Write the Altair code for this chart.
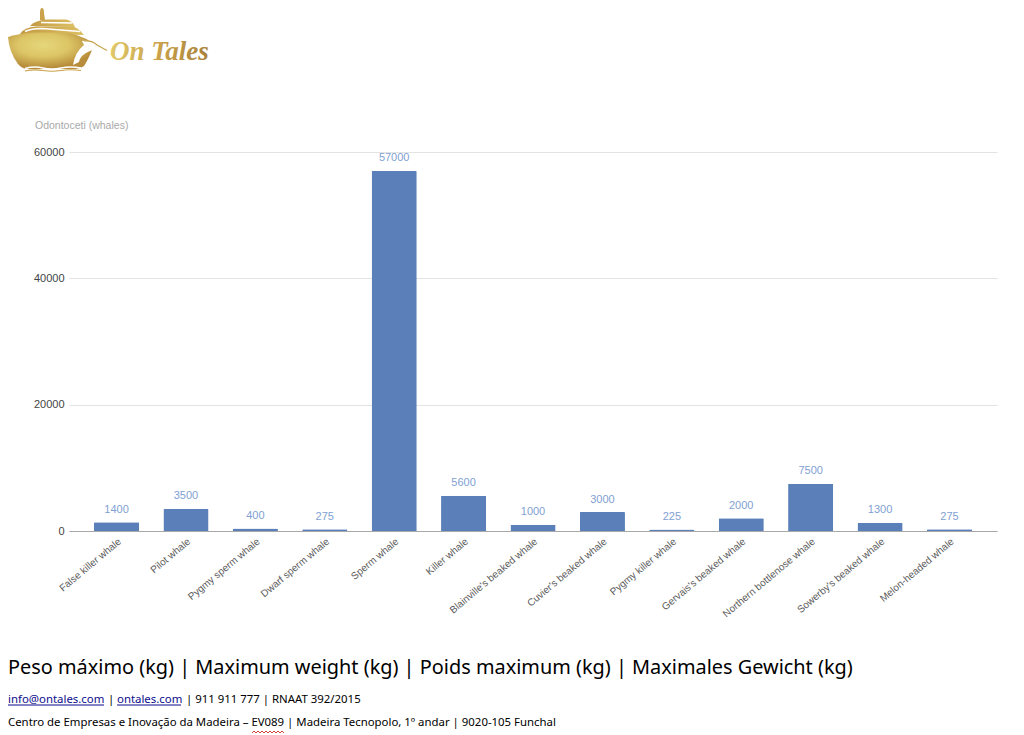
import altair as alt
import pandas as pd
import urllib.parse

species = ["False killer whale", "Pilot whale", "Pygmy sperm whale", "Dwarf sperm whale", "Sperm whale",
           "Killer whale", "Blainville's beaked whale", "Cuvier's beaked whale", "Pygmy killer whale",
           "Gervais's beaked whale", "Northern bottlenose whale", "Sowerby's beaked whale", "Melon-headed whale"]
weights = [1400, 3500, 400, 275, 57000, 5600, 1000, 3000, 225, 2000, 7500, 1300, 275]
y_ticks = [0, 20000, 40000, 60000]

chart_label = "Odontoceti (whales)"
brand = "On Tales"
heading = "Peso máximo (kg) | Maximum weight (kg) | Poids maximum (kg) | Maximales Gewicht (kg)"
mail = "info@ontales.com"
site = "ontales.com"
sep1 = "|"
contact = "| 911 911 777 | RNAAT 392/2015"
address = "Centro de Empresas e Inovação da Madeira – EV089 | Madeira Tecnopolo, 1º andar | 9020-105 Funchal"

df = pd.DataFrame({"species": species, "weight": weights})

W, H = 928, 379
OX, OY = 69, 152


def page_x(x):
    return alt.value(x - OX)


def page_y(y):
    return alt.value(y - OY)


logo_svg = """<svg xmlns='http://www.w3.org/2000/svg' width='112' height='76' viewBox='0 0 112 76'>
<defs><radialGradient id='g' cx='42%' cy='35%' r='62%'><stop offset='0' stop-color='#e6d77c'/><stop offset='0.5' stop-color='#dcc565'/><stop offset='1' stop-color='#b78c3a'/></radialGradient>
<linearGradient id='d' x1='0' x2='1'><stop offset='0' stop-color='#c39a45'/><stop offset='1' stop-color='#dcbf62'/></linearGradient></defs>
<path d='M40 20 L40 13 Q40 8 42 8 Q44 8 44 13 L45 20 Z' fill='#c9a24a'/>
<path d='M30 26 Q35 20 48 19.5 L66 19.5 Q72 20 75 27 Z' fill='url(#d)'/>
<path d='M41 22.5 L72 23' stroke='#fff' stroke-width='1.3' fill='none'/>
<path d='M20 34 Q24 27 36 26.5 L72 26.5 Q78 27 84 35 Z' fill='url(#d)'/>
<path d='M25 31.5 Q31 28.5 42 28.5 L80 31.5' stroke='#fff' stroke-width='1.6' fill='none'/>
<path d='M8 37 Q20 33 34 32.5 L60 32.5 Q80 33 92 43 L92 50 Q88 60 84 66 Q80 69 76 69 L28 69 Q22 69 18 64 Q9 52 8 37 Z' fill='url(#g)'/>
<path d='M73 65 Q75 52 84 45 L82 41 Q90 40 96 45 L107 50.5 Q97 47.5 90 51 Q80 55 79 62 Z' fill='#ffffff'/>
<path d='M84 41 Q92 40 97 45 L107 50.5' fill='none' stroke='#c8a550' stroke-width='1.2'/>
<path d='M25 68.5 Q34 66 43 68 T61 68 T81 68' fill='none' stroke='#ffffff' stroke-width='1.5'/>
<path d='M25 71 Q34 69 43 70.5 T61 70.5 T81 70.5' fill='none' stroke='#c9a24a' stroke-width='1.2'/>
</svg>"""
logo_url = "data:image/svg+xml," + urllib.parse.quote(logo_svg)

wave_svg = """<svg xmlns='http://www.w3.org/2000/svg' width='32' height='4' viewBox='0 0 32 4'>
<path d='M0 3 L2 1 L4 3 L6 1 L8 3 L10 1 L12 3 L14 1 L16 3 L18 1 L20 3 L22 1 L24 3 L26 1 L28 3 L30 1 L32 3' fill='none' stroke='#d03020' stroke-width='0.9'/>
</svg>"""
wave_url = "data:image/svg+xml," + urllib.parse.quote(wave_svg)


def text_layer(txt, x, y, **kw):
    return alt.Chart(pd.DataFrame({"t": [txt]})).mark_text(align="left", baseline="alphabetic", **kw).encode(
        text="t:N", x=page_x(x), y=page_y(y))


def rule_layer(x1, x2, y, color, **kw):
    return alt.Chart(pd.DataFrame({"t": [0]})).mark_rule(color=color, strokeWidth=1, **kw).encode(
        x=page_x(x1), x2=page_x(x2), y=page_y(y))


def image_layer(url, x, y, w, h):
    return alt.Chart(pd.DataFrame({"t": [0]})).mark_image(url=url, width=w, height=h, align="left", baseline="top").encode(
        x=page_x(x), y=page_y(y))


x_enc = alt.X("species:N", sort=species, title=None,
              scale=alt.Scale(paddingInner=0.35, paddingOuter=0.36),
              axis=alt.Axis(labelAngle=-40, labelAlign="right", labelBaseline="top", labelFont="Liberation Sans",
                            labelFontSize=10, labelColor="#5a5a5a", labelLimit=300, labelPadding=5,
                            ticks=False, domainColor="#a8a8a8", domainWidth=1.2, grid=False))
y_enc = alt.Y("weight:Q", title=None,
              scale=alt.Scale(domain=[0, 60000], nice=False),
              axis=alt.Axis(values=y_ticks, format="d", labelFont="Liberation Sans", labelFontSize=11,
                            labelColor="#444444", labelPadding=5, ticks=False, domain=False,
                            gridColor="#e3e3e3", gridWidth=1.2))

bars = alt.Chart(df).mark_bar(color="#5b80b9", cornerRadiusTopLeft=1, cornerRadiusTopRight=1).encode(x=x_enc, y=y_enc)
values = alt.Chart(df).mark_text(font="Liberation Sans", fontSize=11, color="#7f9fd3", dy=-12.5, baseline="middle").encode(
    x=alt.X("species:N", sort=species), y="weight:Q", text="weight:Q")

gold = alt.LinearGradient(gradient="linear", x1=0, x2=1, y1=0, y2=0,
                          stops=[alt.GradientStop(offset=0, color="#e0c868"),
                                 alt.GradientStop(offset=0.5, color="#c9a24a"),
                                 alt.GradientStop(offset=1, color="#a8803a")])

LINK = "#0b0b8c"
chart = alt.layer(
    bars, values,
    image_layer(logo_url, 0, 0, 112, 76),
    text_layer(brand, 110, 60, font="Liberation Serif", fontSize=27, fontStyle="italic", fontWeight="bold", color=gold),
    text_layer(chart_label, 35, 128.5, font="Liberation Sans", fontSize=10.5, color="#a9a9a9"),
    text_layer(heading, 8, 674, font="Noto Sans", fontSize=19.9, color="#000000"),
    text_layer(mail, 8, 703, font="Noto Sans", fontSize=11.4, color=LINK),
    rule_layer(8, 104, 705, LINK),
    text_layer(sep1, 108, 703, font="Noto Sans", fontSize=11.4, color="#000000"),
    text_layer(site, 117, 703, font="Noto Sans", fontSize=11.4, color=LINK),
    rule_layer(117, 181, 705, LINK),
    text_layer(contact, 186, 703, font="Noto Sans", fontSize=11.4, color="#000000"),
    text_layer(address, 8, 726, font="Noto Sans", fontSize=11.4, color="#000000"),
    image_layer(wave_url, 252, 730, 32, 4),
).resolve_scale(x="shared", y="shared").properties(
    width=W, height=H,
    background="#ffffff",
    autosize=alt.AutoSizeParams(type="none"),
    padding={"left": OX - 8, "top": OY - 8, "right": 19, "bottom": 204},
).configure_view(stroke=None)

chart.save("out.html", embed_options={"renderer": "svg", "actions": False})
